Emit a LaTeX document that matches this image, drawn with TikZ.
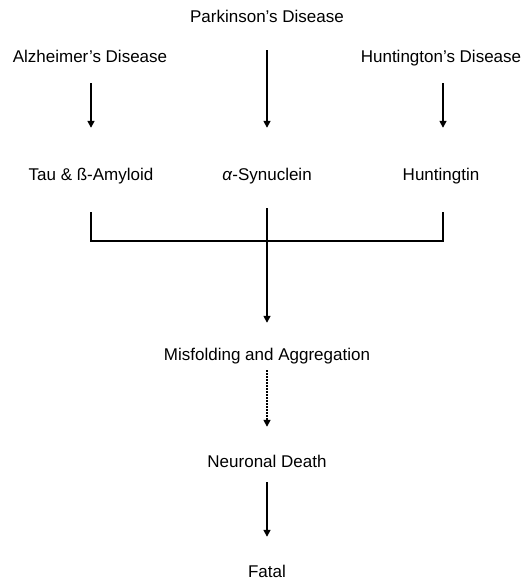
\documentclass[tikz,border=0pt]{standalone}
\usepackage{fontspec}
\setmainfont{Liberation Sans}
\usetikzlibrary{arrows.meta}
\begin{document}
\begin{tikzpicture}[x=1pt,y=-1pt,
  lbl/.style={inner sep=0pt,anchor=base,text height=12.5pt,text depth=3.5pt,font=\fontsize{17}{20}\selectfont},
  ln/.style={line width=1.6pt},
  arr/.style={ln,-{Triangle[length=7pt,width=7pt]}}]
\useasboundingbox (0,0) rectangle (524,581);
\node[lbl] (park) at (267,22) {Parkinson’s Disease};
\node[lbl] (alz) at (90,62) {Alzheimer’s Disease};
\node[lbl] (hd) at (441,62) {Huntington’s Disease};
\node[lbl] (tau) at (91,180) {Tau \& ß-Amyloid};
\node[lbl] (syn) at (267,180) {\textit{α}-Synuclein};
\node[lbl] (htt) at (441,180) {Huntingtin};
\node[lbl] (mis) at (267,360) {Misfolding and Aggregation};
\node[lbl] (nd) at (267,467) {Neuronal Death};
\node[lbl] (fat) at (267,577) {Fatal};
\coordinate (bl) at (91,241);
\coordinate (br) at (443,241);
\draw[arr,shorten <=17.5pt,shorten >=39.5pt] (tau.north |- alz.south) -- (tau.north);
\draw[arr,shorten <=24.5pt,shorten >=39.5pt] (park.south) -- (syn.north);
\draw[arr,shorten <=17.5pt,shorten >=39.5pt] (br |- hd.south) -- (br |- htt.north);
\draw[ln] ([yshift=-28.5pt]tau.south) -- (bl) -- (br) -- ([yshift=-28.5pt]br |- htt.south);
\draw[arr,shorten <=24.5pt,shorten >=24.5pt] (syn.south) -- (mis.north);
\draw[arr,dash pattern=on 1.6pt off 1.4pt,shorten <=6.5pt,shorten >=27.5pt] (mis.south) -- (nd.north);
\draw[arr,shorten <=11.5pt,shorten >=27.5pt] (nd.south) -- (fat.north);
\end{tikzpicture}
\end{document}
